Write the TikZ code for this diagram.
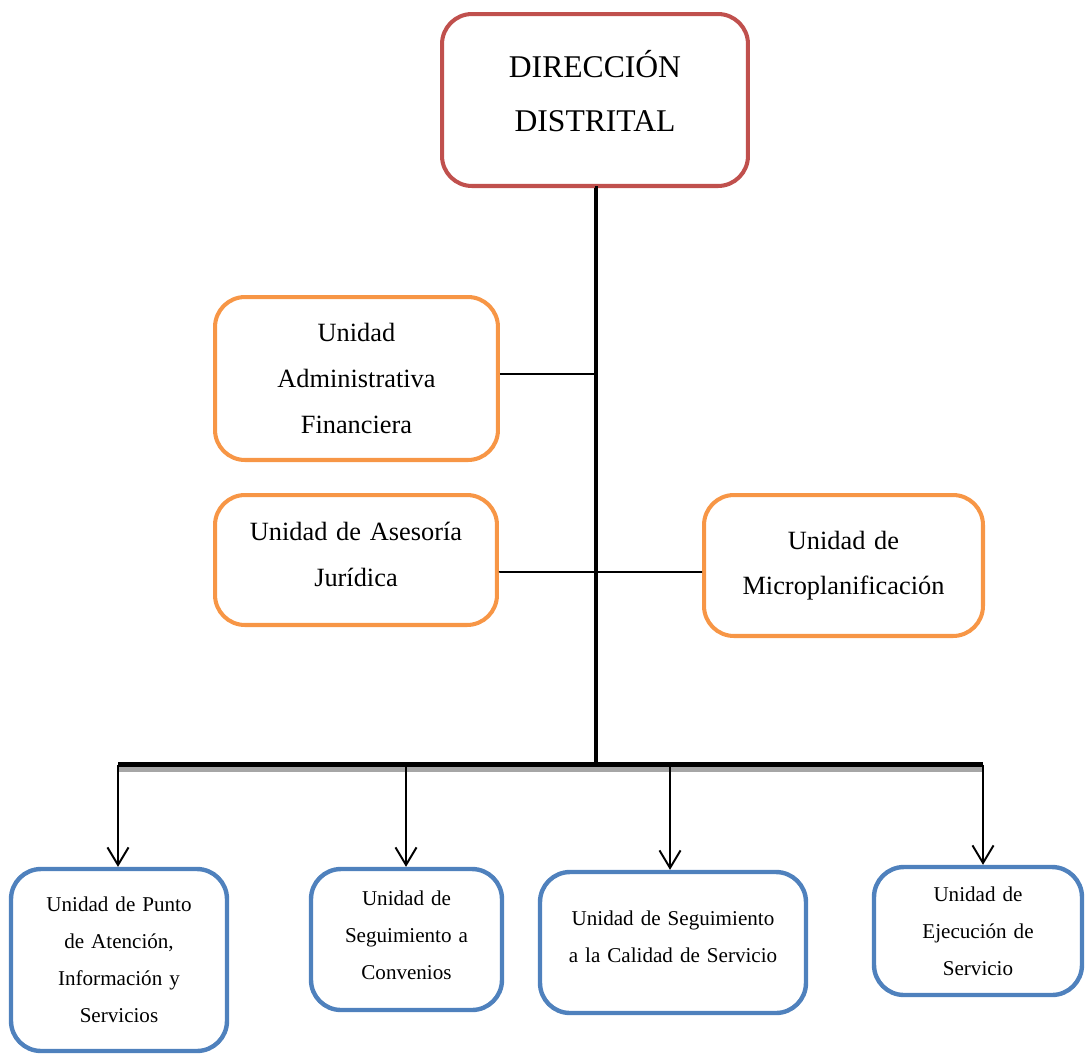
\documentclass[tikz,border=0pt]{standalone}
\usepackage{fontspec}
\setmainfont{Liberation Serif}
\usetikzlibrary{arrows.meta}
\definecolor{dirred}{HTML}{C0504D}
\definecolor{unitorange}{HTML}{F79646}
\definecolor{unitblue}{HTML}{4F81BD}
\definecolor{barshadow}{HTML}{A6A6A6}
\tikzset{
  dirbox/.style={draw=dirred,line width=2.3pt,rounded corners=0.6cm,inner sep=0pt,
    text width=5.6cm,align=center,font=\fontsize{18}{30.7}\selectfont},
  staffbox/.style={draw=unitorange,line width=2.3pt,rounded corners=0.6cm,inner sep=0pt,
    text width=5cm,align=center,font=\fontsize{15}{26}\selectfont},
  opbox/.style={draw=unitblue,line width=2.5pt,rounded corners=0.6cm,inner sep=0pt,
    text width=3.6cm,align=center,font=\fontsize{12}{21}\selectfont},
}
\newcommand{\lift}[1]{\rule[-#1]{0pt}{0pt}}
\begin{document}
\begin{tikzpicture}[x=0.02cm,y=-0.02cm,>={Straight Barb[length=10pt,width=12pt]}]
      \useasboundingbox (0,0) rectangle (1086,1056);
      \node[dirbox,minimum width=6.12cm,minimum height=3.44cm] (dir) at (595,100) {DIRECCIÓN\\ DISTRITAL\lift{10pt}};

      \node[staffbox,minimum width=5.66cm,minimum height=3.26cm] (adm) at (356.5,378.5) {Unidad\\ Administrativa\\ Financiera};
      \node[staffbox,minimum width=5.64cm,minimum height=2.6cm] (jur) at (356,560) {Unidad de Asesoría\\ Jurídica\lift{6.8pt}};
      \node[staffbox,minimum width=5.58cm,minimum height=2.82cm] (mic) at (843.5,565.5) {Unidad de\\ Microplanificación};

      \node[opbox,minimum width=4.32cm,minimum height=3.64cm] (b1) at (119,960) {Unidad de Punto\\ de Atención,\\ Información y\\ Servicios};
      \node[opbox,minimum width=3.82cm,minimum height=2.82cm] (b2) at (406.5,939.5) {Unidad de\\ Seguimiento a\\ Convenios\lift{4.5pt}};
      \node[opbox,text width=4.8cm,minimum width=5.32cm,minimum height=2.82cm] (b3) at (673,942.5) {Unidad de Seguimiento\\ a la Calidad de Servicio\lift{6.8pt}};
      \node[opbox,minimum width=4.16cm,minimum height=2.56cm] (b4) at (978,931) {Unidad de\\ Ejecución de\\ Servicio};

      %% trunk and bar
      \coordinate (t0) at (596,764.5);
      \coordinate (d1) at (118,764.5);
      \coordinate (d2) at (406,764.5);
      \coordinate (d3) at (670,764.5);
      \coordinate (d4) at (983,764.5);
      \draw[line width=2.8pt] (dir.south) -- (dir.south -| t0) -- (t0);
      \draw[barshadow,line width=2.6pt] ([yshift=-2.8pt]d1) -- ([yshift=-2.8pt]d4);
      \draw[line width=2.8pt] (d1) -- (d4);

      \draw[line width=0.9pt] ([yshift=2.5pt]adm.east) -- ([yshift=2.5pt]adm.east -| t0);
      \draw[line width=0.9pt] ([yshift=-6.8pt]jur.east) -- ([yshift=-3.7pt]mic.west);

      \foreach \d/\b in {d1/b1,d2/b2,d3/b3,d4/b4}
        \draw[->,line width=1.1pt] (\d) -- (\d |- \b.north);
    \end{tikzpicture}
\end{document}
